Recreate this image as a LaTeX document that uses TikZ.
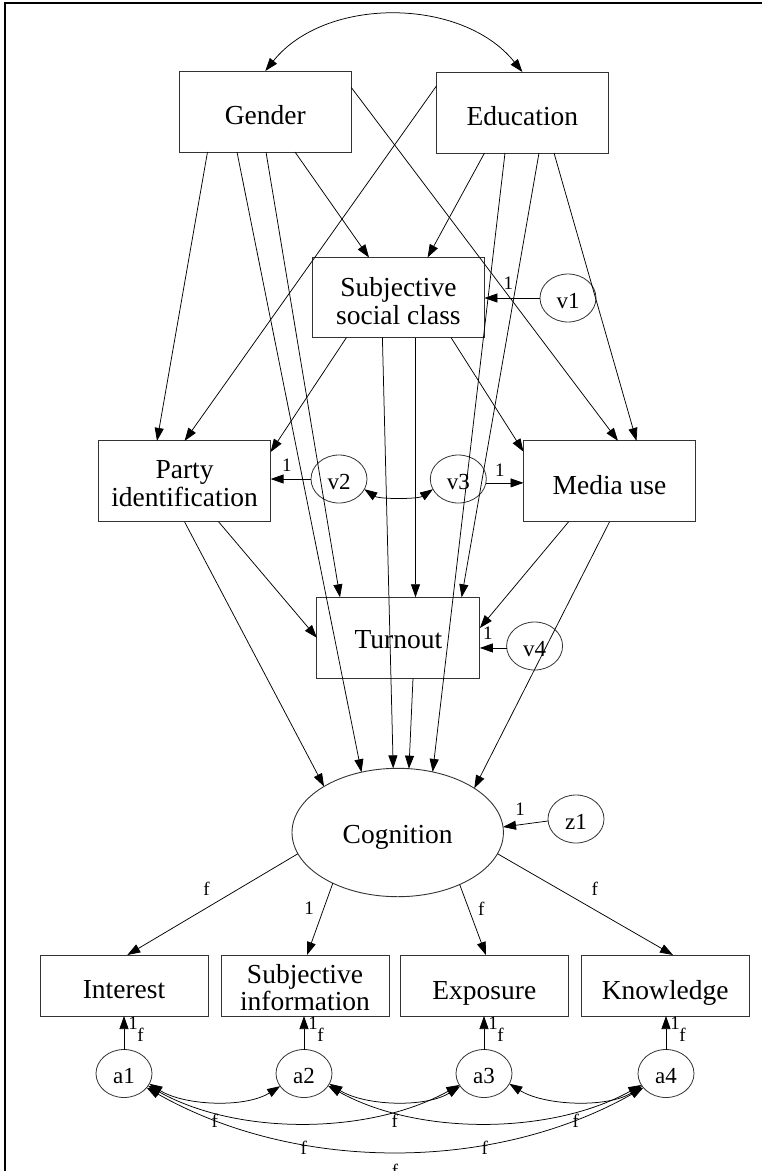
\documentclass[tikz,border=0pt]{standalone}
\usepackage{fontspec}
\setmainfont{Liberation Serif}
\usetikzlibrary{arrows.meta,shapes.geometric}

\begin{document}
\begin{tikzpicture}[x=1pt,y=-1pt,
  every node/.style={inner sep=0pt, outer sep=0pt},
  obs/.style={draw=black!80, line width=0.9pt, rectangle, minimum width=#1,
    minimum height=81pt},
  obs/.default=172pt,
  tx/.style 2 args={label={[font=\fontsize{27.5}{28}\selectfont, align=center,
    yshift=#1]center:#2}},
  latent/.style={draw=black!80, line width=0.9pt, ellipse, minimum width=211.4pt,
    minimum height=128.4pt},
  err/.style={draw=black!80, line width=0.8pt, ellipse, minimum width=56pt,
    minimum height=48pt, font=\fontsize{23}{23}\selectfont,
    text height=20.5pt, text depth=0pt},
  lbl/.style={font=\fontsize{19}{19}\selectfont},
  tip/.tip={Triangle[length=13pt,width=9pt]},
  path/.style={-tip, line width=0.75pt},
  cov/.style={tip-tip, line width=0.75pt}]

\useasboundingbox (0,0) rectangle (762,1171);
% frame lines along the top and left edges
\draw[line width=2.3pt] (4.8,1171) -- (4.8,2.8) -- (762,2.8);

% exogenous and endogenous observed variables
\node[obs, tx={-3.5pt}{Gender}] (gender) at (265.3,111.5) {};
\node[obs, tx={-4pt}{Education}] (educ) at (522.4,112.5) {};
\node[obs, minimum height=80pt, tx={-3.3pt}{Subjective\\social class}] (ssc) at (398.4,297.5) {};
\node[obs, tx={-2.5pt}{Party\\identification}] (party) at (184.6,481.4) {};
\node[obs, tx={-3.6pt}{Media use}] (media) at (609.5,481.4) {};
\node[obs=163pt, tx={-2.2pt}{Turnout}] (turnout) at (398.4,637.8) {};
\node[latent, tx={-5.3pt}{Cognition}] (cog) at (397.7,832.5) {};

% indicators
\node[obs=168pt, minimum height=61pt, tx={-4.5pt}{Interest}] (i1) at (124,985.5) {};
\node[obs=168pt, minimum height=61pt,
  label={[font=\fontsize{27.5}{26.5}\selectfont, align=center, yshift=-2pt]center:Subjective\\information}]
  (i2) at (305,985.5) {};
\node[obs=168pt, minimum height=61pt, tx={-7.5pt}{Exposure}] (i3) at (484.3,985.5) {};
\node[obs=168pt, minimum height=61pt, tx={-7.5pt}{Knowledge}] (i4) at (665.2,985.5) {};

% residuals
\node[err] (v1) at (568,298) {v1};
\node[err] (v2) at (339,479) {v2};
\node[err] (v3) at (458.3,479) {v3};
\node[err] (v4) at (534.6,646) {v4};
\node[err] (z1) at (576,819) {z1};
\node[err] (a1) at (124,1073.5) {a1};
\node[err] (a2) at (304,1073.5) {a2};
\node[err] (a3) at (484,1073.5) {a3};
\node[err] (a4) at (666,1073.5) {a4};

% structural paths
\draw[path] ([xshift=-57.8pt]gender.south) -- ([xshift=-27.6pt]party.north);
\draw[path] ([xshift=-28.3pt]gender.south) -- (cog.121.4);
\draw[path] ([xshift=0.7pt]gender.south) -- ([xshift=-58.4pt]turnout.north);
\draw[path] ([xshift=29.7pt]gender.south) -- ([xshift=-29.4pt]ssc.north);
\draw[path] ([yshift=24pt]gender.east) -- ([xshift=8.5pt]media.north);
\draw[path] ([yshift=26.5pt]educ.west) -- (party.north);
\draw[path] ([xshift=-37.9pt]educ.south) -- ([xshift=29.2pt]ssc.north);
\draw[path] ([xshift=-17.4pt]educ.south) -- (cog.60.9);
\draw[path] ([xshift=16.6pt]educ.south) -- ([xshift=63.2pt]turnout.north);
\draw[path] ([xshift=31.6pt]educ.south) -- ([xshift=27pt]media.north);
\draw[path] ([xshift=-51.9pt]ssc.south) -- ([yshift=29.4pt]party.east);
\draw[path] ([xshift=52.6pt]ssc.south) -- ([yshift=29.7pt]media.west);
\draw[path] ([xshift=17.1pt]ssc.south) -- ([xshift=17.1pt]turnout.north);
\draw[path] ([xshift=-16pt]ssc.south) -- (cog.94.5);
\draw[path] ([xshift=34.1pt]party.south) -- (turnout.west);
\draw[path] (party.south) -- (cog.148.7);
\draw[path] ([xshift=-41pt]media.south) -- ([yshift=9.8pt]turnout.east);
\draw[path] (media.south) -- (cog.30.8);
\draw[path] ([xshift=14.6pt]turnout.south) -- (cog.80.7);

% residual paths
\draw[path] (v1.west) -- (v1.west -| ssc.east) node[lbl, pos=0.57, yshift=15pt] {1};
\draw[path] (v2.west) -- (v2.west -| party.east) node[lbl, pos=0.6, yshift=14pt] {1};
\draw[path] (v3.-8) -- (v3.-8 -| media.west) node[lbl, pos=0.37, yshift=13pt] {1};
\draw[path] (v4.184) -- (v4.184 -| turnout.east) node[lbl, pos=0.7, yshift=15pt] {1};
\draw[path] (z1.184) -- (cog.3) node[lbl, pos=0.62, yshift=15pt] {1};

% covariances
\draw[cov] (gender.north) .. controls +(60,-75) and +(-60,-75) .. (educ.north);
\draw[cov] (v2.-22) .. controls +(15,10) and +(-15,10) .. (v3.-158);

% measurement model
\draw[path] (cog.192) -- ([xshift=3.3pt]i1.north) node[lbl, pos=0.344, xshift=-32.7pt] {f};
\draw[path] (cog.218.3) -- ([xshift=2pt]i2.north) node[lbl, pos=0.352, xshift=-14.5pt] {1};
\draw[path] (cog.-40.3) -- ([xshift=1.6pt]i3.north) node[lbl, pos=0.34, xshift=12.7pt] {f};
\draw[path] (cog.-12) -- ([xshift=7.8pt]i4.north) node[lbl, pos=0.344, xshift=37pt] {f};

% indicator residuals
\foreach \k in {1,2,3,4}{
  \draw[path] (a\k.north) -- (a\k.north |- i\k.south)
    node[lbl, pos=1, xshift=9pt, yshift=-7.5pt] {1}
    node[lbl, pos=1, xshift=16.5pt, yshift=-18.5pt] {f};
}

% residual covariances
\draw[cov] (a1.-22) .. controls +(35,22) and +(-35,22) .. (a2.-152) node[lbl, midway, yshift=-19pt] {f};
\draw[cov] (a2.-22) .. controls +(35,22) and +(-35,22) .. (a3.-152) node[lbl, midway, yshift=-19pt] {f};
\draw[cov] (a3.-22) .. controls +(35,22) and +(-35,22) .. (a4.-152) node[lbl, midway, yshift=-19pt] {f};
\draw[cov] (a1.-27) .. controls +(90,50) and +(-90,50) .. (a3.-155) node[lbl, midway, yshift=-25pt] {f};
\draw[cov] (a2.-27) .. controls +(90,50) and +(-90,50) .. (a4.-155) node[lbl, midway, yshift=-25pt] {f};
\draw[cov] (a1.-32) .. controls +(150,85) and +(-150,85) .. (a4.-148) node[lbl, midway, yshift=-19pt] {f};
\end{tikzpicture}
\end{document}
